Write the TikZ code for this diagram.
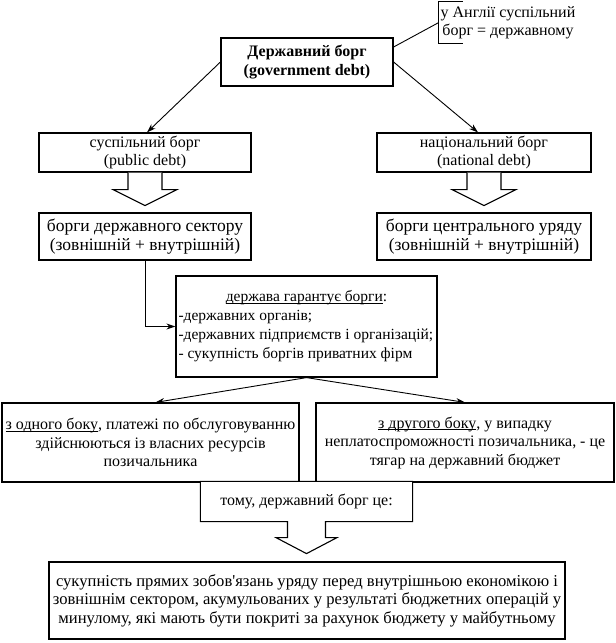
\documentclass[tikz,border=0pt]{standalone}
\usepackage{fontspec}
\setmainfont{Liberation Serif}
\newfontfamily\plainrm{Liberation Serif}
\usetikzlibrary{arrows.meta, positioning}
\newcommand{\undl}[1]{\setbox0\hbox{#1}\rlap{\rule[-2.2pt]{\wd0}{0.8pt}}\box0}

\begin{document}
\begin{tikzpicture}[
    x=1pt, y=-1pt,
    % Styles
    box/.style={draw, line width=1.2pt, align=center, inner sep=1pt, font=\fontsize{16}{18.5}\selectfont},
    big_text/.style={font=\fontsize{17.5}{19}\selectfont},
    note_box/.style={align=center, inner sep=0pt, minimum width=138, minimum height=41, font=\fontsize{16}{18}\selectfont},
    hollow/.style={draw, line width=1.1pt, fill=white},
    arrow/.style={-{Stealth[length=9pt, width=6pt]}, line width=0.9pt}
]
    \useasboundingbox (0,0) rectangle (616,643);

    % 1. TOP
    \node[box, font=\fontsize{16}{18.5}\selectfont\bfseries, minimum width=172, minimum height=48] (debt) at (307,62) {Державний борг\\(government debt)};
    \node[note_box] (note) at (508,22.5) {у Англії суспільний\\борг = державному};
    \draw[line width=0.9pt] ([xshift=24pt]note.north west) -- (note.north west) -- (note.south west) -- ([xshift=24pt]note.south west);

    % 2. PUBLIC / NATIONAL
    \node[box, minimum width=212, minimum height=39] (public) at (145,152.5) {суспільний борг\\(public debt)};
    \node[box, minimum width=214, minimum height=39] (national) at (484,152.5) {національний борг\\(national debt)};

    \node[box, big_text, minimum width=212, minimum height=47] (sector) at (145,236.5) {борги державного сектору\\(зовнішній + внутрішній)};
    \node[box, big_text, minimum width=214, minimum height=47] (central) at (484,236.5) {борги центрального уряду\\(зовнішній + внутрішній)};

    \foreach \n in {public,national}
        \draw[hollow] ([xshift=-17pt]\n.south) -- ++(0,17) -- ++(-15,0) -- ++(32,16) -- ++(32,-16) -- ++(-15,0) -- ++(0,-17);

    % 3. GUARANTEE
    \node[box, font=\fontsize{15.5}{19}\selectfont, align=left, minimum width=261, minimum height=101] (guar) at (306.5,326.5)
        {\makebox[256pt]{\undl{держава гарантує борги}:}\\-державних органів;\\-державних підприємств і організацій;\\- сукупність боргів приватних фірм};

    % 4. TWO SIDES
    \node[box, minimum width=297, minimum height=79] (oneside) at (150.5,442.5)
        {\undl{з одного боку}, платежі по обслуговуванню\\здійснюються із власних ресурсів\\позичальника};
    \node[box, minimum width=298, minimum height=79] (otherside) at (465,442.5)
        {\undl{з другого боку}, у випадку\\неплатоспроможності позичальника, - це\\тягар на державний бюджет};

    % 5. CONCLUSION
    \node[box, draw=none, minimum width=211, minimum height=39] (so) at (306.5,501.5) {};
    \draw[hollow] (so.north west) -- (so.north east) -- (so.south east) -- ([xshift=19pt]so.south) -- ++(0,16) -- ++(11.5,0) -- ++(-30.5,16) -- ++(-30.5,-16) -- ++(11.5,0) -- ++(0,-16) -- (so.south west) -- cycle;
    \node[box, draw=none] at (so.center) {тому, державний борг це:};

    \node[box, font=\fontsize{16.6}{18.5}\selectfont, minimum width=516, minimum height=77] (final) at (307,600.5)
        {сукупність прямих зобов{\plainrm '}язань уряду перед внутрішньою економікою і\\зовнішнім сектором, акумульованих у результаті бюджетних операцій у\\минулому, які мають бути покриті за рахунок бюджету у майбутньому};

    % 6. ARROWS
    \draw[line width=0.9pt] ([yshift=15pt]debt.east) -- (note.west);
    \draw[arrow] (debt.west) -- ([xshift=2pt]public.north);
    \draw[arrow] (debt.east) -- ([xshift=-6pt]national.north);
    \draw[arrow] (sector.south) |- (guar.west);
    \draw[arrow] (guar.south) -- ([xshift=5pt]oneside.north);
    \draw[arrow] (guar.south) -- (otherside.north);

\end{tikzpicture}
\end{document}
